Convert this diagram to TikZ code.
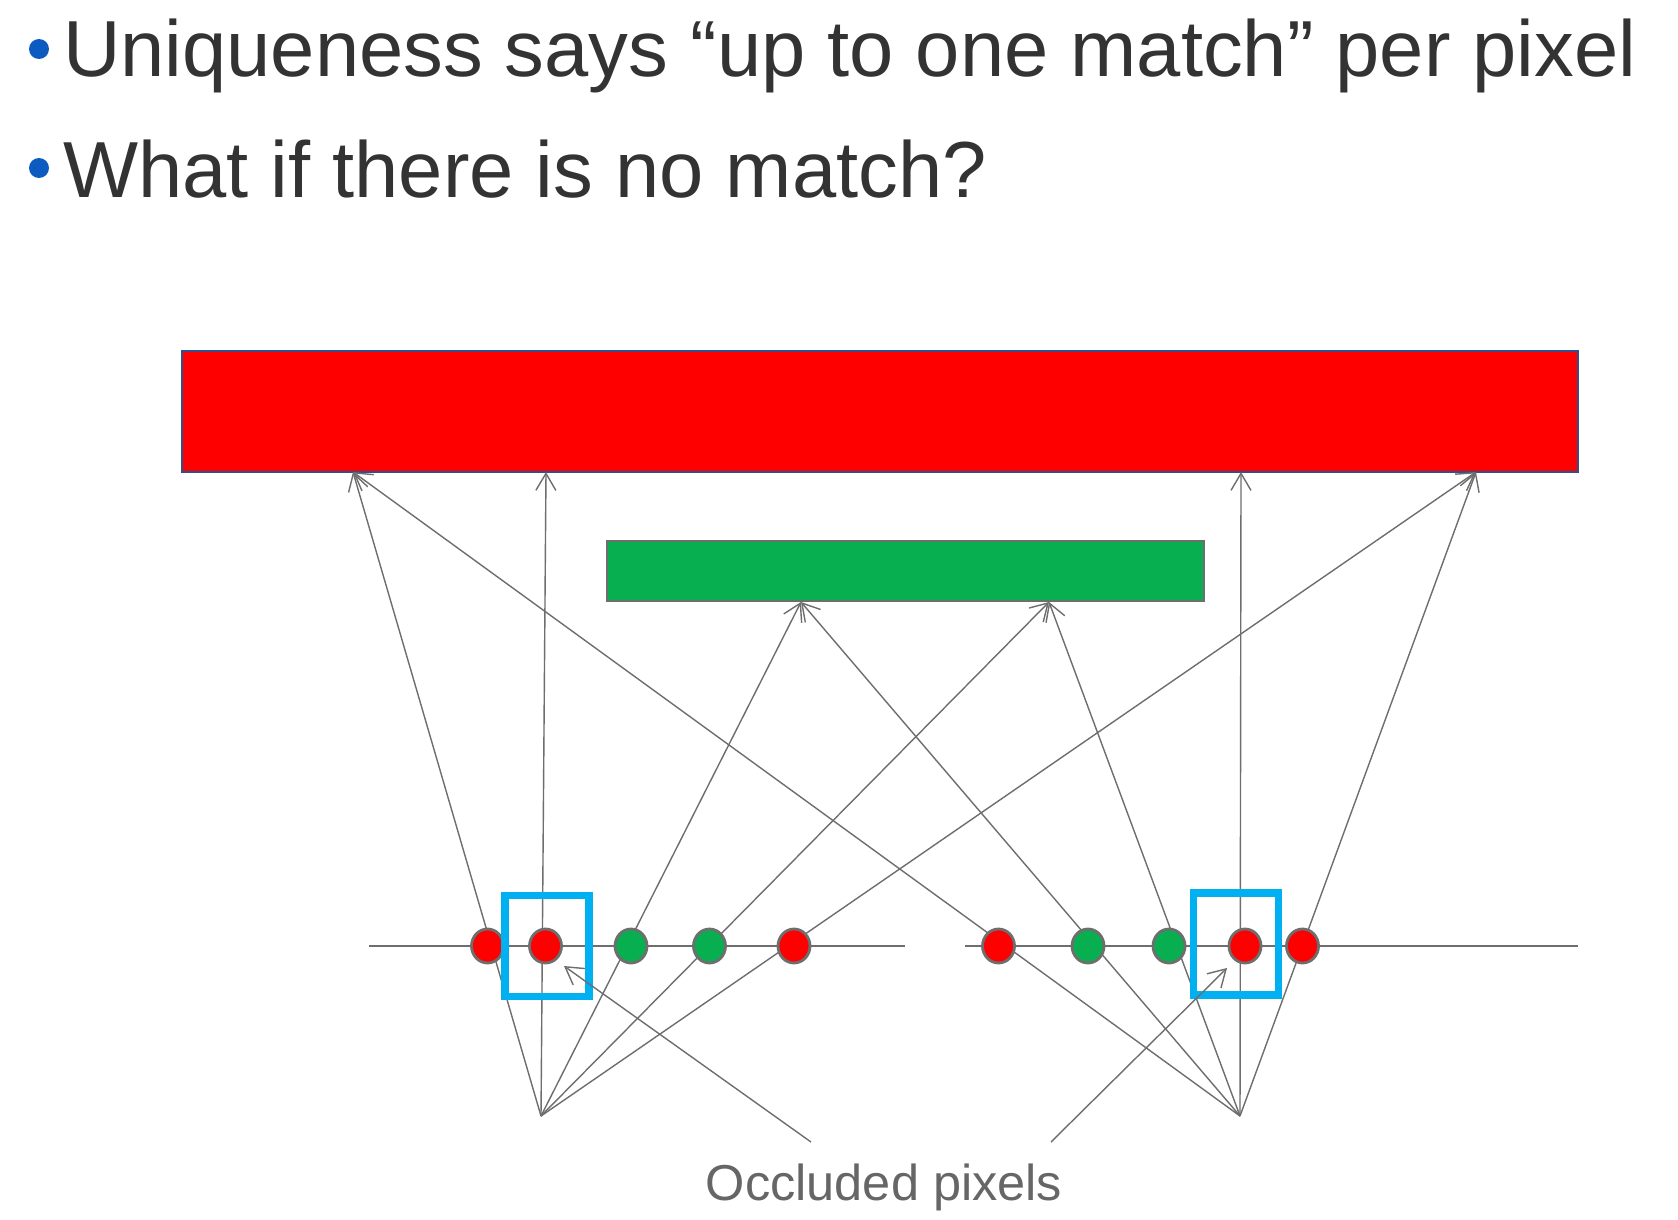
\documentclass[tikz,border=0pt]{standalone}
\usepackage{fontspec}
\setmainfont{Liberation Sans}
\usetikzlibrary{arrows.meta,shapes.geometric}
\definecolor{txtc}{HTML}{333333}
\definecolor{bulc}{HTML}{0B5BC0}
\definecolor{lnc}{HTML}{6E6E6E}
\definecolor{occc}{HTML}{666666}
\definecolor{redc}{HTML}{FF0000}
\definecolor{grnc}{HTML}{08AF50}
\definecolor{cyc}{HTML}{00B0F0}
\definecolor{bdc}{HTML}{2F4F8F}
\begin{document}
\begin{tikzpicture}[x=1pt,y=-1pt,
  ray/.style={draw=lnc, line width=1.4pt},
  arr/.style={ray, -{Straight Barb[length=17pt,width=20pt]}},
  pixbase/.style={ellipse, draw=lnc, line width=2.8pt, minimum width=32pt, minimum height=34pt, inner sep=0pt},
  pixr/.style={pixbase, fill=redc},
  pixg/.style={pixbase, fill=grnc},
  occbox/.style={draw=cyc, line width=7.5pt, inner sep=0pt},
  bigtext/.style={anchor=base west, inner sep=0pt, text=txtc, font=\fontsize{79.5}{90}\selectfont}
]
\useasboundingbox (0,0) rectangle (1678,1220);
\fill[white] (0,0) rectangle (1678,1220);

% bullets and title text
\fill[bulc] (39,49) circle (10);
\fill[bulc] (39,168) circle (10);
\node[bigtext] (line1) at (63,77) {Uniqueness says “up to one match” per pixel};
\node[bigtext] (line2) at (63,197) {What if there is no match?};

% surfaces
\node[draw=bdc, fill=redc, line width=2pt, minimum width=1396pt, minimum height=121pt, inner sep=0pt] (far) at (880,411.5) {};
\node[draw=lnc, fill=grnc, line width=2pt, minimum width=597pt, minimum height=60pt, inner sep=0pt] (near) at (905.5,571) {};

% targets on surfaces
\coordinate (fA) at (353,472);
\coordinate (fB) at (546,472);
\coordinate (fC) at (1241,472);
\coordinate (fD) at (1476,472);
\coordinate (nA) at (801,602);
\coordinate (nB) at (1049,602);

% cameras
\coordinate (camL) at (541,1116);
\coordinate (camR) at (1240,1116);

% image lines
\coordinate (hLa) at (369,946);
\coordinate (hLb) at (905,946);
\coordinate (hRa) at (965,946);
\coordinate (hRb) at (1578,946);
\draw[ray] (hLa) -- (hLb);
\draw[ray] (hRa) -- (hRb);

% rays from left camera
\draw[arr] (camL) -- (fA);
\draw[arr] (camL) -- (fB);
\draw[arr] (camL) -- (nA);
\draw[arr] (camL) -- (nB);
\draw[arr] (camL) -- (fD);
% rays from right camera
\draw[arr] (camR) -- (fA);
\draw[arr] (camR) -- (nA);
\draw[arr] (camR) -- (nB);
\draw[arr] (camR) -- (fC);
\draw[arr] (camR) -- (fD);

% pixels
\node[pixr] (l1) at (487.5,946) {};
\node[pixr] (l2) at (545.5,946) {};
\node[pixg] (l3) at (631,946) {};
\node[pixg] (l4) at (709.5,946) {};
\node[pixr] (l5) at (794,946) {};
\node[pixr] (r1) at (998.5,946) {};
\node[pixg] (r2) at (1088,946) {};
\node[pixg] (r3) at (1169,946) {};
\node[pixr] (r4) at (1245,946) {};
\node[pixr] (r5) at (1302.5,946) {};

% occlusion boxes
\node[occbox, minimum width=84pt, minimum height=101pt] (boxL) at (547,946) {};
\node[occbox, minimum width=85pt, minimum height=102pt] (boxR) at (1236,944) {};

% label
\node[anchor=base, inner sep=0pt, text=occc, font=\fontsize{50.5}{60}\selectfont] (occ) at (884,1200) {Occluded pixels};
\coordinate (oL) at (811,1142);
\coordinate (oR) at (1051,1142);
\coordinate (oLt) at (564,966);
\coordinate (oRt) at (1227,968);
\draw[arr] (oL) -- (oLt);
\draw[arr] (oR) -- (oRt);
\end{tikzpicture}
\end{document}
